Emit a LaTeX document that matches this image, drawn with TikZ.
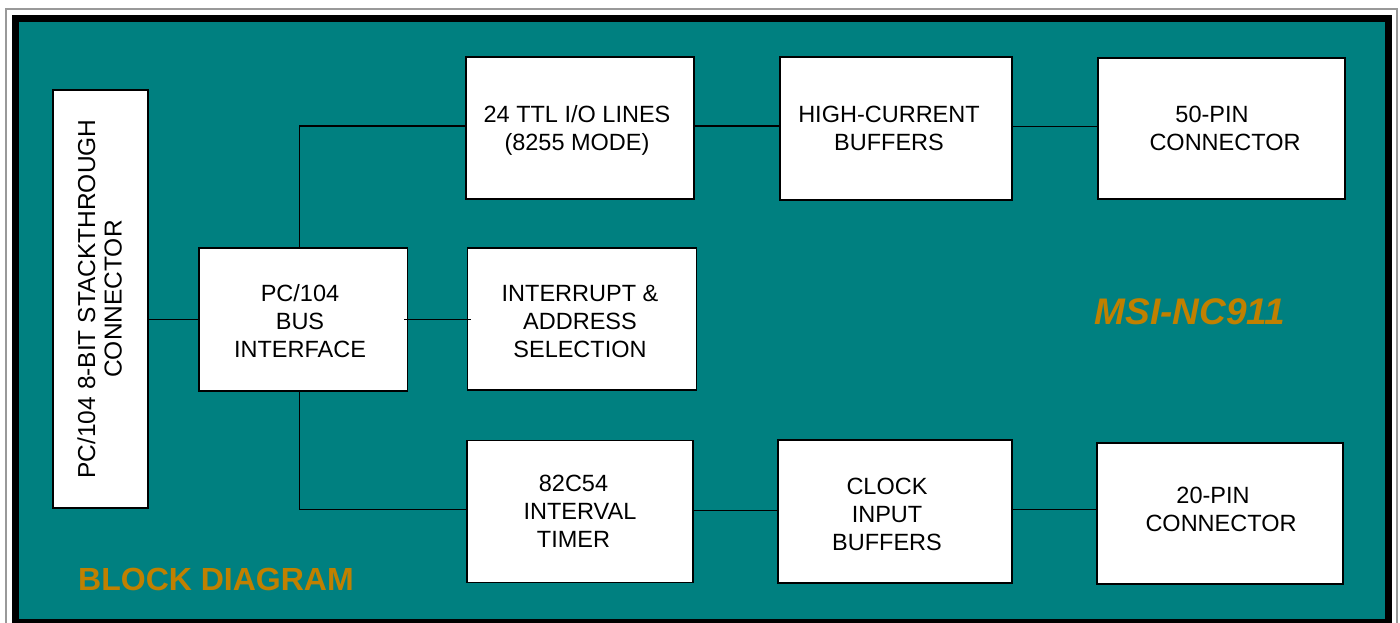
\documentclass[tikz,border=0pt]{standalone}
\usepackage{fontspec}
\setmainfont{Liberation Sans}
\definecolor{bgteal}{RGB}{0,128,128}
\definecolor{titleorange}{RGB}{192,128,0}
\begin{document}
\begin{tikzpicture}[x=1pt,y=-1pt,
  blk/.style={draw=black, line width=1.2pt, fill=white, inner sep=0pt},
  txt/.style={font=\fontsize{23.5}{28}\selectfont, align=center, inner sep=0pt, text depth=0pt},
  title/.style={text=titleorange, inner sep=0pt, text depth=0pt},
  wire/.style={line width=1.2pt, black}]
\useasboundingbox (0,0) rectangle (1400,623);
\draw[gray!80, line width=1.2pt] (6,9) rectangle (1397,650);
\fill[black] (12,15) rectangle (1392,650);
\fill[bgteal] (19,22) rectangle (1385,619);

% boxes
\node[blk, minimum width=95pt, minimum height=418pt] (stack) at (100.5,299) {};
\node[blk, minimum width=208.5pt, minimum height=143pt] (bus) at (303.25,319.5) {};
\node[blk, minimum width=228pt, minimum height=142pt] (ttl) at (580,128) {};
\node[blk, minimum width=232pt, minimum height=143pt] (hc) at (896,128.5) {};
\node[blk, minimum width=247pt, minimum height=141pt] (p50) at (1221.5,128.5) {};
\node[blk, minimum width=229pt, minimum height=142pt] (int) at (582,319) {};
\node[blk, minimum width=226pt, minimum height=142pt] (timer) at (580,511.7) {};
\node[blk, minimum width=234pt, minimum height=143pt] (clock) at (895,511.5) {};
\node[blk, minimum width=246pt, minimum height=141pt] (p20) at (1220,513.5) {};

% connectors
\coordinate (busin) at ([xshift=-4pt]bus.east);
\coordinate (intin) at ([xshift=4pt]int.west);
\draw[wire] (bus.west) -- (bus.west -| stack.east);
\draw[wire] ([xshift=-4pt]bus.north) |- ([yshift=2pt]ttl.west);
\draw[wire] ([yshift=2pt]ttl.east) -- ([yshift=2pt]ttl.east -| hc.west);
\draw[wire] ([yshift=2pt]hc.east) -- ([yshift=2pt]hc.east -| p50.west);
\draw[wire] (busin) -- (intin |- busin);
\draw[wire] ([xshift=-4pt]bus.south) |- ([yshift=2pt]timer.west);
\draw[wire] ([yshift=1pt]timer.east) -- ([yshift=1pt]timer.east -| clock.west);
\draw[wire] ([yshift=2pt]clock.east) -- ([yshift=2pt]clock.east -| p20.west);

% texts
\node[txt, font=\fontsize{24.5}{26.5}\selectfont, rotate=90] (tstack) at (99.5,299) {PC/104 8-BIT STACKTHROUGH\\CONNECTOR};
\node[txt] (tbus) at (300,321) {PC/104\\BUS\\INTERFACE};
\node[txt] (tttl) at (577,128) {24 TTL I/O LINES\\(8255 MODE)};
\node[txt] (thc) at (889,128) {HIGH-CURRENT\\BUFFERS};
\node[txt] (tp50) at (1225,128) {50-PIN\hspace*{26pt}\\CONNECTOR};
\node[txt] (tint) at (580,321) {INTERRUPT \&\\ADDRESS\\SELECTION};
\node[txt] (ttim) at (580,511.5) {82C54\hspace*{13pt}\\INTERVAL\\TIMER\hspace*{13pt}};
\node[txt] (tclk) at (887,514.5) {CLOCK\\INPUT\\BUFFERS};
\node[txt] (tp20) at (1221,509.5) {20-PIN\hspace*{16pt}\\CONNECTOR};
\node[title, font=\fontsize{32}{32}\selectfont\bfseries] (tbd) at (216,579) {BLOCK DIAGRAM};
\node[title, font=\fontsize{37}{37}\selectfont\bfseries\itshape] (tmsi) at (1190,312) {MSI-NC911};
\end{tikzpicture}
\end{document}
